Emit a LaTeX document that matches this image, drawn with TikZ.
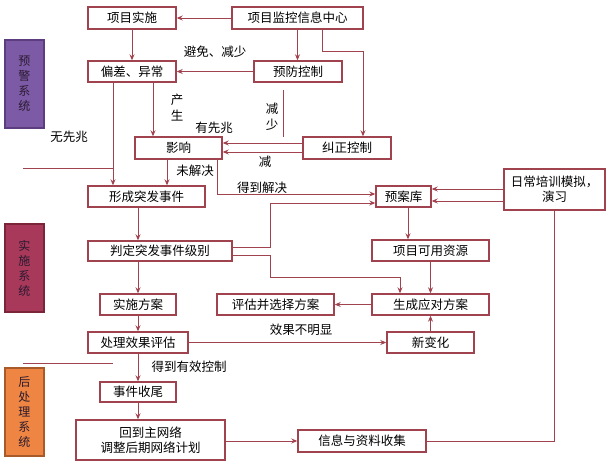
\documentclass[tikz,border=0pt]{standalone}
\usepackage{fontspec}
\setmainfont{Noto Sans CJK SC}
\usetikzlibrary{arrows.meta}
\definecolor{lc}{HTML}{A0434F}
\definecolor{pur}{HTML}{7D5AA6}
\definecolor{purb}{HTML}{5B3D80}
\definecolor{red2}{HTML}{A8395A}
\definecolor{red2b}{HTML}{7A2638}
\definecolor{ora}{HTML}{EE8542}
\definecolor{orab}{HTML}{A85A2A}
\definecolor{stxt}{HTML}{2A1A30}
\tikzset{
  box/.style={draw=lc, line width=1.4pt, fill=white, rectangle, inner sep=0pt,
    font=\fontsize{12.5}{15}\selectfont, align=center},
  side/.style={rectangle, line width=1.2pt, inner sep=0pt, minimum width=39pt,
    minimum height=88pt, text=stxt, font=\fontsize{12}{15}\selectfont, align=center},
  arr/.style={draw=lc, line width=0.9pt, -{Stealth[length=6pt,width=5pt]}},
  ln/.style={draw=lc, line width=0.9pt},
  lab/.style={font=\fontsize{12.5}{16}\selectfont, align=center, inner sep=0pt},
}
\begin{document}
\begin{tikzpicture}[x=1pt,y=-1pt]
\useasboundingbox[fill=white] (0,0) rectangle (614,466);
% side boxes
\node[side, fill=pur, draw=purb] (s1) at (24.5,84) {预\\警\\系\\统};
\node[side, fill=red2, draw=red2b] (s2) at (24.5,268) {实\\施\\系\\统};
\node[side, fill=ora, draw=orab] (s3) at (24.5,412) {后\\处\\理\\系\\统};
% boxes
\node[box, minimum width=88, minimum height=22] (jss) at (132,18) {项目实施};
\node[box, minimum width=131, minimum height=22] (jk) at (297.5,18) {项目监控信息中心};
\node[box, minimum width=88, minimum height=21] (pc) at (132,71.5) {偏差、异常};
\node[box, minimum width=88, minimum height=21] (yf) at (298,71.5) {预防控制};
\node[box, minimum width=87, minimum height=22] (yx) at (178.5,148) {影响};
\node[box, minimum width=88, minimum height=22] (jz) at (347,148) {纠正控制};
\node[box, minimum width=117, minimum height=21] (xc) at (146.5,196.5) {形成突发事件};
\node[box, minimum width=55, minimum height=21] (ya) at (403.5,196.5) {预案库};
\node[box, minimum width=101, minimum height=41] (rc) at (554.5,189.5) {日常培训模拟，\\演习};
\node[box, minimum width=144, minimum height=20] (pd) at (160,251) {判定突发事件级别};
\node[box, minimum width=117, minimum height=21] (ky) at (430.5,250.5) {项目可用资源};
\node[box, minimum width=76, minimum height=21] (ss) at (138,304.5) {实施方案};
\node[box, minimum width=117, minimum height=21] (pg) at (275.5,304.5) {评估并选择方案};
\node[box, minimum width=117, minimum height=21] (sc) at (430.5,304.5) {生成应对方案};
\node[box, minimum width=100, minimum height=21] (cl) at (138,342.5) {处理效果评估};
\node[box, minimum width=87, minimum height=21] (xb) at (430.5,342.5) {新变化};
\node[box, minimum width=76, minimum height=20] (sw) at (138,392) {事件收尾};
\node[box, minimum width=149, minimum height=40] (hd) at (150.5,440) {回到主网络\\调整后期网络计划};
\node[box, minimum width=128, minimum height=22] (xx) at (362,441) {信息与资料收集};
% helper coordinates
\coordinate (x113) at (113,0);
\coordinate (x138) at (138,0);
\coordinate (x153) at (153,0);
\coordinate (x167) at (167,0);
\coordinate (x217) at (217,0);
\coordinate (x270) at (270,0);
\coordinate (x400) at (400,0);
\coordinate (x408) at (408,0);
\coordinate (k1) at (322,51);
\coordinate (k2) at (363,51);
\coordinate (y143) at (0,143);
\coordinate (y152) at (0,152);
\coordinate (y189) at (0,189);
\coordinate (y194) at (0,194);
\coordinate (y201) at (0,201);
\coordinate (y203) at (0,203);
\coordinate (y247) at (0,247);
\coordinate (y255) at (0,255);
\coordinate (b1) at (270,277);
\coordinate (b2) at (400,277);
\coordinate (v1) at (283,90);
\coordinate (v2) at (283,137);
\coordinate (sa1) at (23,168);
\coordinate (sa2) at (113,168);
\coordinate (sb1) at (23,363);
\coordinate (sb2) at (113,363);
% connectors
\draw[arr] (jk.west) -- (jss.east);
\draw[arr] (jss.south) -- (pc.north);
\draw[arr] (jk.south) -- (jk.south |- yf.north);
\draw[arr] (yf.west) -- (pc.east);
\draw[arr] (jk.south -| k1) -- (k1) -- (k2) -- (jz.north -| k2);
\draw[arr] (pc.south -| x153) -- (yx.north -| x153);
\draw[arr] (pc.south -| x113) -- (xc.north -| x113);
\draw[arr] (jz.west |- y143) -- (yx.east |- y143);
\draw[arr] (jz.west |- y152) -- (yx.east |- y152);
\draw[arr] (yx.south -| x167) -- (xc.north -| x167);
\draw[arr] (yx.south -| x217) |- (ya.west |- y194);
\draw[arr] (rc.west |- y189) -- (ya.east |- y189);
\draw[arr] (rc.west |- y201) -- (ya.east |- y201);
\draw[arr] (pd.east |- y247) -- (x270 |- y247) |- (ya.west |- y203);
\draw[arr] (pd.east |- y255) -- (x270 |- y255) -- (b1) -- (b2) -- (sc.north -| b2);
\draw[arr] (ya.south -| x408) -- (ky.north -| x408);
\draw[arr] (ky.south) -- (sc.north);
\draw[arr] (sc.west) -- (pg.east);
\draw[arr] (xb.north) -- (sc.south);
\draw[arr] (xc.south -| x138) -- (pd.north -| x138);
\draw[arr] (pd.south -| x138) -- (ss.north);
\draw[arr] (ss.south) -- (cl.north);
\draw[arr] (cl.east) -- (xb.west);
\draw[arr] (cl.south) -- (sw.north);
\draw[arr] (sw.south) -- (hd.north -| sw.south);
\draw[arr] (hd.east |- xx.west) -- (xx.west);
\draw[ln] (xx.east) -| (rc.south);
\draw[ln] (v1) -- (v2);
\draw[ln] (sa1) -- (sa2);
\draw[ln] (sb1) -- (sb2);
% labels
\node[lab] (l1) at (215,52) {避免、减少};
\node[lab] (l2) at (177,108) {产\\生};
\node[lab] (l3) at (214,128) {有先兆};
\node[lab] (l4) at (69,137) {无先兆};
\node[lab] (l5) at (272,117) {减\\少};
\node[lab] (l6) at (265,162) {减};
\node[lab] (l7) at (195,171) {未解决};
\node[lab] (l8) at (262,188) {得到解决};
\node[lab] (l9) at (301,330) {效果不明显};
\node[lab] (l10) at (189,367) {得到有效控制};
\end{tikzpicture}
\end{document}
